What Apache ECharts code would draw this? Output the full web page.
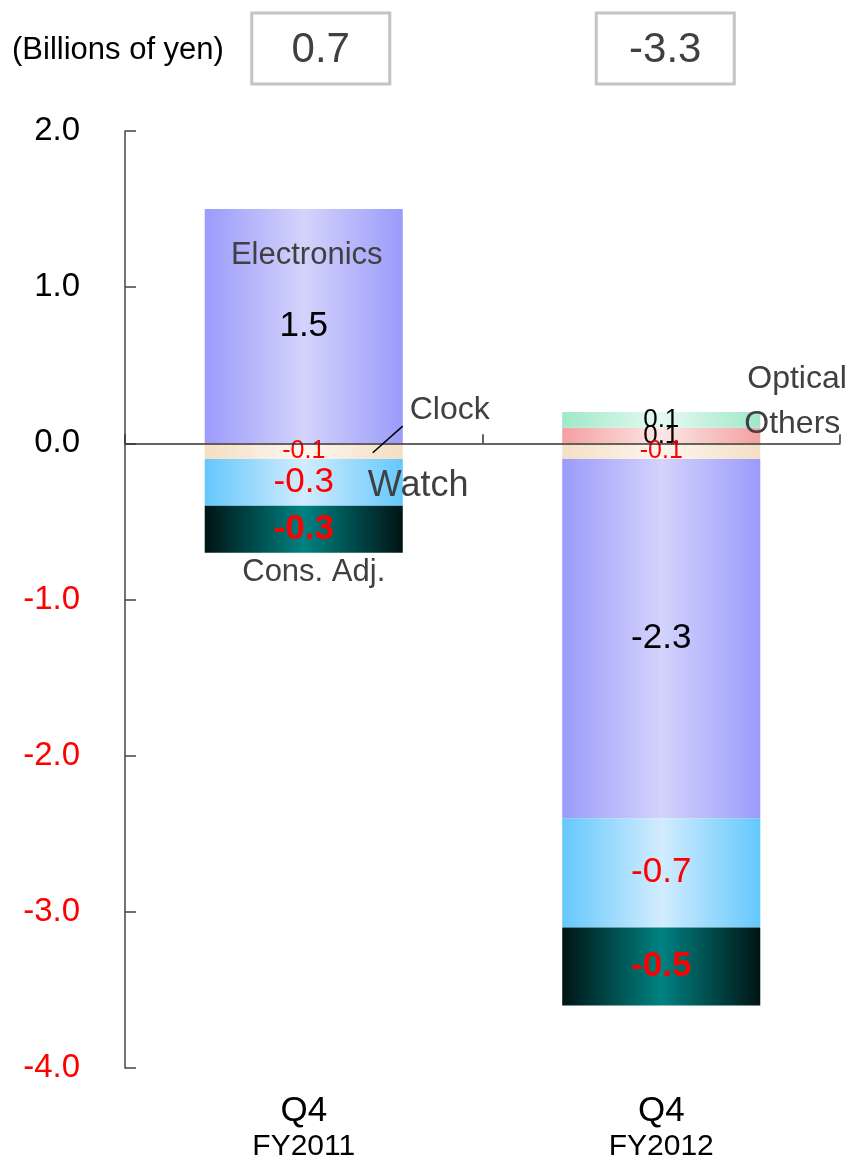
<!DOCTYPE html>
<html>
<head>
<meta charset="utf-8">
<script src="https://cdn.jsdelivr.net/npm/echarts@6/dist/echarts.min.js"></script>
<style>
  html, body { margin: 0; padding: 0; background: #fff; }
  #chart { width: 849px; height: 1162px; }
</style>
</head>
<body>
<div id="chart"></div>
<script>
// Operating income by segment, quarterly (billions of yen)
const fiscalYears = ['FY2011', 'FY2012'];
const quarters = ['Q4', 'Q4'];
const others = ['-', 0.1];
const optical = ['-', 0.1];
const clock = [-0.1, -0.1];
const electronics = [1.5, -2.3];
const watch = [-0.3, -0.7];
const consAdj = [-0.3, -0.5];
const totals = [0.7, -3.3];
const yTicks = [-4, -3, -2, -1, 0, 1, 2];

const FONT = '"Liberation Sans", Arial, sans-serif';
const RED = '#ff0000';

// horizontal "cylinder" shading: dark edges, light middle
function shade(edge, mid) {
  return new echarts.graphic.LinearGradient(0, 0, 1, 0, [
    { offset: 0, color: edge },
    { offset: 0.5, color: mid },
    { offset: 1, color: edge }
  ]);
}

function segment(name, data, edge, mid, labelStyle) {
  return {
    name: name,
    type: 'bar',
    stack: 'total',
    data: data,
    barWidth: '55.4%',
    itemStyle: { color: shade(edge, mid) },
    label: Object.assign({
      show: true,
      position: 'inside',
      fontFamily: FONT,
      fontSize: 35,
      color: '#000',
      formatter: p => Number(p.value).toFixed(1)
    }, labelStyle)
  };
}

const chart = echarts.init(document.getElementById('chart'), null, { renderer: 'canvas' });

chart.setOption({
  animation: false,
  backgroundColor: '#fff',
  grid: { left: 125, right: 9, top: 131, bottom: 94, containLabel: false },
  xAxis: [
    {
      type: 'category',
      data: fiscalYears,
      z: 10,
      axisLine: { onZero: true, lineStyle: { color: '#333', width: 1.5 } },
      axisTick: { show: true, inside: true, length: 9, lineStyle: { color: '#333', width: 1.5 } },
      axisLabel: { show: false }
    },
    {
      type: 'category',
      data: fiscalYears,
      position: 'bottom',
      axisLine: { show: false, onZero: false },
      axisTick: { show: false },
      axisLabel: {
        margin: 25,
        formatter: (v, i) => '{q|' + quarters[i] + '}\n{fy|' + v + '}',
        rich: {
          q: { fontFamily: FONT, fontSize: 35, lineHeight: 36, color: '#000' },
          fy: { fontFamily: FONT, fontSize: 30, lineHeight: 36, color: '#000' }
        }
      }
    }
  ],
  yAxis: {
    type: 'value',
    min: yTicks[0],
    max: yTicks[yTicks.length - 1],
    interval: 1,
    splitLine: { show: false },
    axisLine: { show: true, lineStyle: { color: '#444', width: 1.5 } },
    axisTick: { show: true, inside: true, length: 11, lineStyle: { color: '#444', width: 1.5 } },
    axisLabel: {
      margin: 45,
      fontFamily: FONT,
      fontSize: 33,
      formatter: v => v.toFixed(1),
      color: v => (Number(v) < 0 ? RED : '#000')
    }
  },
  series: [
    segment('Others', others, '#f3a0a0', '#fde6e6', { fontSize: 26 }),
    segment('Optical', optical, '#9fe8c8', '#e6faf1', { fontSize: 26 }),
    segment('Clock', clock, '#f3dfc4', '#fdf6ee', { fontSize: 25, color: RED }),
    segment('Electronics', electronics, '#9b9bfb', '#d3d3fc', {}),
    segment('Watch', watch, '#64c8fc', '#d2ecfe', { color: RED }),
    segment('Cons. Adj.', consAdj, '#001414', '#008282', { color: RED, fontWeight: 'bold' })
  ]
});

// segment names, total boxes and the unit caption, anchored to the axes
const annotations = [
  { text: 'Electronics', cat: 0, value: 1.2, dx: 3, align: 'center', size: 31 },
  { text: 'Clock', cat: 0, value: 0.21, dx: 106, align: 'left', size: 32 },
  { text: 'Watch', cat: 0, value: -0.275, dx: 64, align: 'left', size: 36 },
  { text: 'Cons. Adj.', cat: 0, value: -0.83, dx: 10, align: 'center', size: 31 },
  { text: 'Optical', cat: 1, value: 0.41, dx: 86, align: 'left', size: 32 },
  { text: 'Others', cat: 1, value: 0.12, dx: 83, align: 'left', size: 32 }
];
const boxOffsets = [17, 4];

function px(cat, value) {
  return [
    chart.convertToPixel({ xAxisIndex: 0 }, cat),
    chart.convertToPixel({ yAxisIndex: 0 }, value)
  ];
}

const graphics = [];
annotations.forEach(a => {
  const p = px(a.cat, a.value);
  graphics.push({
    type: 'text',
    x: p[0] + a.dx,
    y: p[1],
    z: 20,
    style: {
      text: a.text,
      fill: '#404040',
      font: a.size + 'px ' + FONT,
      textAlign: a.align,
      textVerticalAlign: 'middle'
    }
  });
});

// leader line from the thin Clock segment to its name
const l0 = px(0, -0.06), l1 = px(0, 0.11);
graphics.push({
  type: 'line',
  z: 20,
  shape: { x1: l0[0] + 69, y1: l0[1], x2: l1[0] + 99, y2: l1[1] },
  style: { stroke: '#000', lineWidth: 1.5 }
});

totals.forEach((t, i) => {
  const cx = chart.convertToPixel({ xAxisIndex: 0 }, i) + boxOffsets[i];
  graphics.push({
    type: 'rect',
    z: 20,
    shape: { x: cx - 69, y: 13, width: 138, height: 71 },
    style: { fill: '#fff', stroke: '#c4c4c4', lineWidth: 3 }
  });
  graphics.push({
    type: 'text',
    z: 21,
    x: cx,
    y: 50,
    style: {
      text: t.toFixed(1),
      fill: '#404040',
      font: '42px ' + FONT,
      textAlign: 'center',
      textVerticalAlign: 'middle'
    }
  });
});

graphics.push({
  type: 'text',
  z: 20,
  x: 12,
  y: 50,
  style: {
    text: '(Billions of yen)',
    fill: '#000',
    font: '31px ' + FONT,
    textAlign: 'left',
    textVerticalAlign: 'middle'
  }
});

chart.setOption({ graphic: graphics });
</script>
</body>
</html>
